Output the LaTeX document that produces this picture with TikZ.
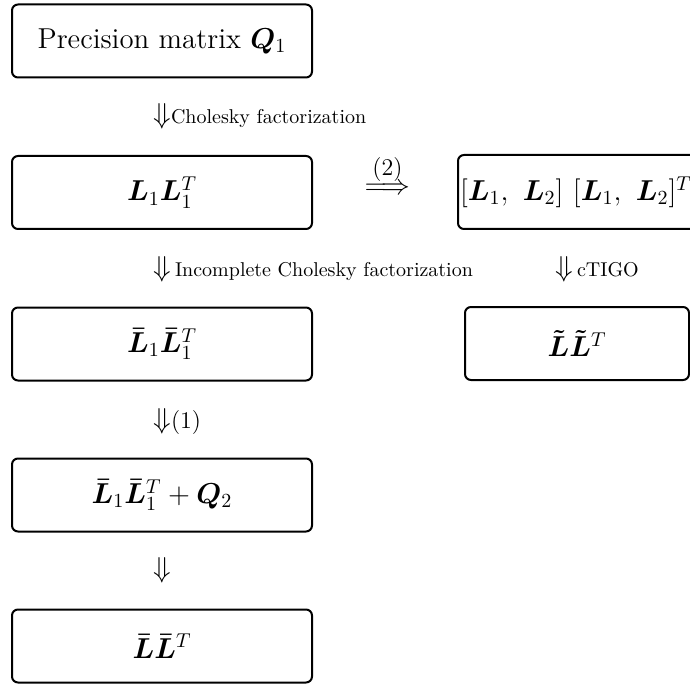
\documentclass[tikz,border=0pt]{standalone}
\usepackage{amsmath}
\usepackage{bm}
\begin{document}
\begin{tikzpicture}[x=0.5pt,y=-0.5pt,
  box/.style={draw, line width=1pt, rounded corners=3pt, minimum width=150pt,
    minimum height=36.5pt, font=\Large, inner sep=0pt},
  lbl/.style={anchor=base west, inner sep=0pt, font=\normalsize},
  arr/.style={anchor=base, inner sep=0pt, font=\Large}]
\useasboundingbox (0,0) rectangle (690,684);
\clip (0,0) rectangle (690,684);
% boxes
\node[box] (q1) at (162,41) {Precision matrix $\bm{Q}_1$};
\node[box] (l1) at (162,192.5) {$\bm{L}_1\bm{L}_1^T$};
\node[box, minimum width=0pt, text width=130pt, align=left, inner xsep=1pt,
  anchor=west, minimum height=37pt] (l12) at (457,192)
  {$[\bm{L}_1,\ \bm{L}_2]\ [\bm{L}_1,\ \bm{L}_2]^T$};
\node[box] (lb1) at (162,344) {$\bm{\bar{L}}_1\bm{\bar{L}}_1^T$};
\node[box, minimum width=112pt] (lt) at (577,343.5) {$\bm{\tilde{L}}\bm{\tilde{L}}^T$};
\node[box] (lb1q) at (162,495) {$\bm{\bar{L}}_1\bm{\bar{L}}_1^T+\bm{Q}_2$};
\node[box] (lb) at (162,646) {$\bm{\bar{L}}\bm{\bar{L}}^T$};
% arrows (as printed symbols)
\node[lbl] (a1) at (153,123.4) {{\Large$\Downarrow$}Cholesky factorization};
\node[lbl] (a2) at (153,276.5) {{\Large$\Downarrow$}\hspace{2pt}Incomplete Cholesky factorization};
\node[lbl] (a3) at (555,276.5) {{\Large$\Downarrow$}\hspace{2pt}cTIGO};
\node[lbl] (a4) at (153,428.4) {{\Large$\Downarrow$}{\large(1)}};
\node[lbl] (a5) at (153,577.4) {{\Large$\Downarrow$}};
\node[arr] (a6) at (387.5,195) {$\overset{\mbox{\large(2)}}{\Longrightarrow}$};
\end{tikzpicture}
\end{document}
